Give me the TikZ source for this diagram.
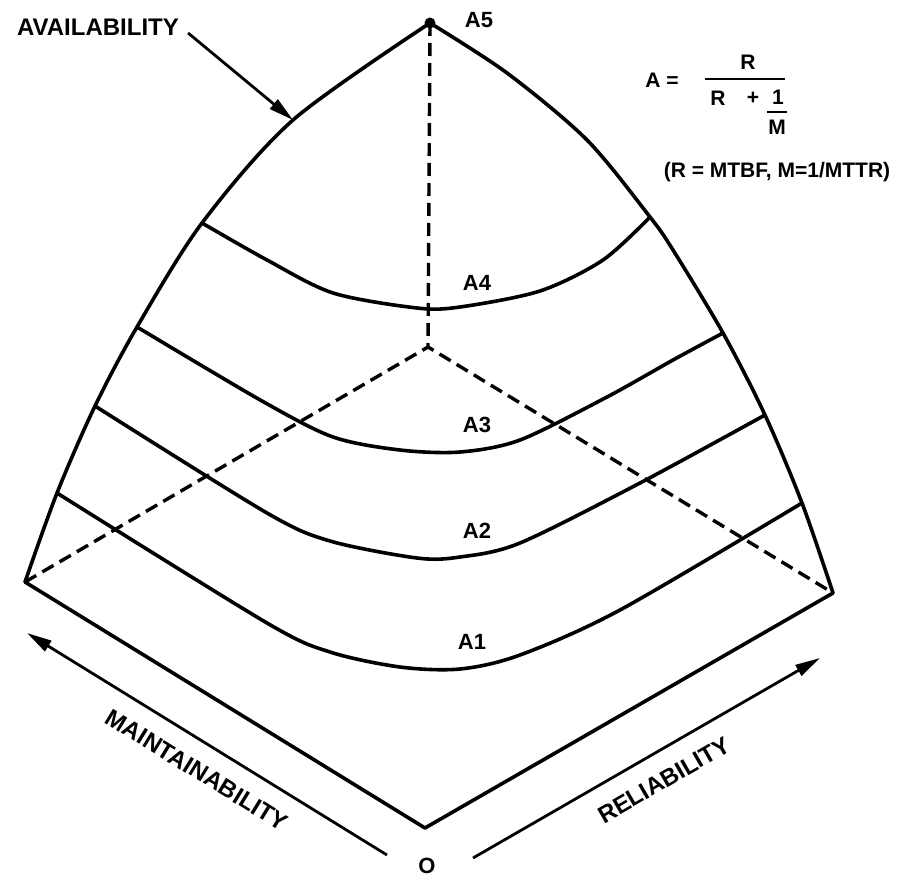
\documentclass[tikz,border=0pt]{standalone}
\usepackage{fontspec}
\setmainfont{Liberation Sans}
\usetikzlibrary{arrows.meta}

\begin{document}
\begin{tikzpicture}[
    x=1pt, y=-1pt,
    rim/.style={line width=3.6pt, line join=round, line cap=round},
    backline/.style={line width=3.4pt, dash pattern=on 13pt off 7pt},
    contour/.style={line width=3.6pt, line cap=round},
    pointer/.style={line width=2.8pt, -{Triangle[length=25pt, width=12pt]}},
    tag/.style={font=\fontsize{22}{24}\selectfont\bfseries, inner sep=0pt},
    formula/.style={font=\fontsize{21}{24}\selectfont\bfseries, inner sep=0pt},
    caption/.style={font=\fontsize{24}{26}\selectfont\bfseries, inner sep=0pt}
    ]
    \useasboundingbox (0,0) rectangle (909,877);

    % Corners
    \coordinate (apex)   at (430,23);
    \coordinate (back)   at (428,347);
    \coordinate (left)   at (25,582);
    \coordinate (right)  at (833,593);
    \coordinate (origin) at (425,828);

    % Hidden edges
    \draw[backline] (apex) -- (back);
    \draw[backline] (left) -- (back) -- (right);

    % Front edges
    \draw[rim] (left) -- (origin) -- (right);
    \draw[rim] plot[smooth] coordinates {(430,23) (293,120) (202,223) (137,327) (95,406) (57,493) (25,582)};
    \draw[rim] plot[smooth] coordinates {(430,23) (507,73) (587,140) (650,217) (673,250) (723,333) (765,415) (802,503) (833,593)};
    \fill (apex) circle[radius=5.5pt];

    % Availability contours
    \draw[contour] plot[smooth] coordinates {(202,223) (267,260) (333,293) (417,308) (460,307) (540,291) (603,260) (650,217)};
    \draw[contour] plot[smooth] coordinates {(137,327) (262,401) (333,437) (400,450) (460,452) (520,440) (607,397) (673,360) (723,333)};
    \draw[contour] plot[smooth] coordinates {(95,406) (267,513) (330,541) (417,558) (460,557) (520,543) (640,483) (765,415)};
    \draw[contour] plot[smooth] coordinates {(57,493) (267,623) (330,652) (400,667) (460,669) (520,655) (620,610) (802,503)};

    % Contour labels
    \node[tag] (a5) at (479,20)  {A5};
    \node[tag] (a4) at (477,283) {A4};
    \node[tag] (a3) at (477,425) {A3};
    \node[tag] (a2) at (477,531) {A2};
    \node[tag] (a1) at (472,642) {A1};
    \node[tag] (zero) at (427,866) {O};

    % Availability pointer
    \node[caption] (avail) at (98,27) {AVAILABILITY};
    \coordinate (availtip) at (293,120);
    \draw[pointer] ([shift={(9pt,-6pt)}]avail.east) -- (availtip);

    % Formula
    \node[formula] (aeq)  at (662,80)  {A =};
    \node[formula] (num)  at (748,62)  {R};
    \draw[line width=2.2pt] (705,79) -- (785,79);
    \node[formula] (denr) at (718,98)  {R};
    \node[formula] (plus) at (753,98)  {+};
    \node[formula] (one)  at (778,97)  {1};
    \draw[line width=2pt] (767,112) -- (787,112);
    \node[formula] (em)   at (777,127) {M};
    \node[formula] (defs) at (777,172) {(R = MTBF, M=1/MTTR)};

    % Axes
    \coordinate (mtail) at (387,855);
    \coordinate (mhead) at (27,633);
    \coordinate (rtail) at (473,858);
    \coordinate (rhead) at (820,658);
    \draw[pointer] (mtail) -- (mhead);
    \draw[pointer] (rtail) -- (rhead);
    \node[caption, rotate=-31.6] (maint) at (197,770) {MAINTAINABILITY};
    \node[caption, rotate=30]    (relia) at (664,780) {RELIABILITY};

\end{tikzpicture}
\end{document}
